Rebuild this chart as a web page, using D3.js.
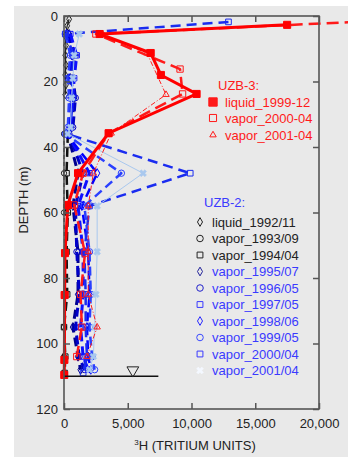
<!DOCTYPE html>
<html>
<head>
<meta charset="utf-8">
<script src="https://cdn.jsdelivr.net/npm/d3@7"></script>
<style>
  body { margin: 0; background: #fff; }
  text { font-family: Arial, "Liberation Sans", sans-serif; }
</style>
</head>
<body>
<div id="chartDiv"></div>
<script>
// tick labels
var xTicks = [0, 5000, 10000, 15000, 20000];
var yTicks = [0, 20, 40, 60, 80, 100, 120];

// UZB-3 (depth in m, tritium in TU)
var uzb3Liq1999Depth = [2.7, 5.5, 11.3, 18, 23.8, 35.8, 48, 57.7, 72.4, 85.2, 105, 109.6];
var uzb3Liq1999TU    = [17500, 2800, 6800, 7600, 10400, 3500, 1100, 300, 80, 50, 30, 20];
var uzb3Vap2000Depth = [0.5, 5.5, 16.2, 23.8, 35.8, 48, 57.7, 72.4, 85, 95, 104];
var uzb3Vap2000TU    = [30000, 2500, 9100, 9300, 3500, 1500, 800, 1650, 1300, 1400, 1000];
var uzb3Vap2001Depth = [5.5, 11.3, 24, 35.8, 48, 58, 72, 85, 95, 104];
var uzb3Vap2001TU    = [2800, 6500, 8000, 3700, 2300, 1900, 1900, 1900, 2600, 1800];

// UZB-2
var uzb2Liq1992Depth = [1, 3, 6, 9, 12, 15, 18, 21, 24];
var uzb2Liq1992TU    = [400, 250, 100, 150, 100, 150, 100, 150, 100];
var uzb2VapDeepDepth = [36, 48, 60, 72, 85, 95, 104, 109];
var uzb2Vap1993TU    = [0, 0, 0, 50, 50, 0, 0, 0];
var uzb2Vap1994TU    = [300, 200, 300, 200, 250, 0, 100, 50];
var uzb2VapDepth     = [5.5, 12, 19, 25, 34, 36, 48, 58, 72, 85, 95, 104, 108];
var uzb2Vap1995TU    = [400, 700, 500, 800, 600, 300, 1100, 700, 1100, 1100, 700, 1100, 1300];
var uzb2Vap1996TU    = [300, 900, 700, 900, 700, 400, 1500, 900, 1000, 1200, 900, 1200, 1600];
var uzb2Vap1997TU    = [500, 1000, 800, 700, 500, 300, 2000, 1100, 1500, 1500, 1300, 1500, 1900];
var uzb2Vap1998TU    = [200, 600, 400, 500, 400, 200, 2600, 1400, 1900, 2000, 1800, 1900, 2100];
var uzb2Vap1999TU    = [100, 500, 300, 400, 300, 100, 4500, 1600, 2000, 2100, 2000, 2200, 2400];
var uzb2Vap2000Depth = [1.8, 5.5, 12, 19, 25, 34, 36, 48, 58, 72, 85, 95, 104, 109];
var uzb2Vap2000TU    = [12900, 100, 800, 600, 700, 500, 200, 9900, 2000, 1600, 1700, 1700, 1800, 1500];
var uzb2Vap2001TU    = [1200, 800, 700, 600, 500, 300, 6200, 2600, 2600, 2500, 2400, 2300, 2000];

// water table
var waterDepth = 110;
var waterLineTU = [0, 7400];
var waterMarkTU = 5400;

var margin = {left: 64, top: 16, right: 29, bottom: 48};
var W = 348, H = 457;

var svg = d3.select("#chartDiv").append("svg")
    .attr("width", W).attr("height", H);

svg.append("rect").attr("x", 14).attr("y", 6)
    .attr("width", W - 14).attr("height", H - 6).attr("fill", "#e9e9e9");

var x = d3.scaleLinear().domain([0, 20000]).range([margin.left, W - margin.right]);
var y = d3.scaleLinear().domain([0, 120]).range([margin.top, H - margin.bottom]);

function zip(depths, tus) {
  return depths.map(function(d, i) { return {d: d, t: tus[i]}; });
}

var line = d3.line().x(function(p) { return x(p.t); }).y(function(p) { return y(p.d); });

var sym = {
  square: d3.symbolSquare, circle: d3.symbolCircle, diamond: d3.symbolDiamond,
  triangle: d3.symbolTriangle, cross: d3.symbolCross
};

function series(data, o) {
  svg.append("path")
      .attr("d", line(data))
      .attr("fill", "none")
      .attr("stroke", o.color)
      .attr("stroke-width", o.width)
      .attr("stroke-dasharray", o.dash || null)
      .attr("stroke-linejoin", "round");
  if (!o.marker) return;
  svg.selectAll(null).data(data).enter().append("path")
      .attr("d", d3.symbol().type(sym[o.marker]).size(o.msize || 30))
      .attr("transform", function(p) {
        return "translate(" + x(p.t) + "," + y(p.d) + ")" + (o.rot ? " rotate(45)" : "");
      })
      .attr("fill", o.fill ? o.color : "none")
      .attr("stroke", o.color)
      .attr("stroke-width", o.mw || 1);
}

// UZB-2 first
series(zip(uzb2Liq1992Depth, uzb2Liq1992TU), {color: "#222", width: 1.2, marker: "diamond", msize: 20});
series(zip(uzb2VapDeepDepth, uzb2Vap1993TU), {color: "#222", width: 1.2, dash: "4,3", marker: "circle", msize: 22});
series(zip(uzb2VapDeepDepth, uzb2Vap1994TU), {color: "#111", width: 2.5, dash: "9,5", marker: "square", msize: 30});
series(zip(uzb2VapDepth, uzb2Vap1995TU), {color: "#000090", width: 3, dash: "9,5", marker: "diamond", msize: 24});
series(zip(uzb2VapDepth, uzb2Vap1996TU), {color: "#0000c8", width: 3, dash: "9,5", marker: "circle", msize: 28});
series(zip(uzb2VapDepth, uzb2Vap1997TU), {color: "#1010ff", width: 3, dash: "9,5", marker: "square", msize: 28});
series(zip(uzb2VapDepth, uzb2Vap1998TU), {color: "#0000ff", width: 2.5, dash: "9,5", marker: "diamond", msize: 24});
series(zip(uzb2VapDepth, uzb2Vap1999TU), {color: "#2a40ff", width: 2.5, dash: "9,5", marker: "circle", msize: 32});
series(zip(uzb2Vap2000Depth, uzb2Vap2000TU), {color: "#1a2cf0", width: 2.5, dash: "10,6", marker: "square", msize: 32});
series(zip(uzb2VapDepth, uzb2Vap2001TU), {color: "#a9c8ee", width: 1, marker: "cross", msize: 30, rot: true, mw: 0.5, fill: true});

// UZB-3
series(zip(uzb3Vap2001Depth, uzb3Vap2001TU), {color: "#ff2020", width: 1, dash: "5,2,1,2", marker: "triangle", msize: 18});
series(zip(uzb3Vap2000Depth, uzb3Vap2000TU), {color: "#ff1a1a", width: 2.5, dash: "12,6", marker: "square", msize: 40});
series(zip(uzb3Liq1999Depth, uzb3Liq1999TU), {color: "#ff0000", width: 3, marker: "square", msize: 50, fill: true});

// water table
svg.append("line")
    .attr("x1", x(waterLineTU[0])).attr("x2", x(waterLineTU[1]))
    .attr("y1", y(waterDepth)).attr("y2", y(waterDepth))
    .attr("stroke", "#111").attr("stroke-width", 1.5);
svg.append("path")
    .attr("d", d3.symbol().type(d3.symbolTriangle).size(60))
    .attr("transform", "translate(" + x(waterMarkTU) + "," + (y(waterDepth) - 6) + ") rotate(180)")
    .attr("fill", "none").attr("stroke", "#222").attr("stroke-width", 1);

// frame and axes
var frame = "#555";
svg.append("rect")
    .attr("x", x(0)).attr("y", y(0))
    .attr("width", x(20000) - x(0)).attr("height", y(120) - y(0))
    .attr("fill", "none").attr("stroke", frame).attr("stroke-width", 1.6);

var xAxis = svg.append("g")
    .attr("transform", "translate(0," + y(120) + ")")
    .call(d3.axisBottom(x).tickValues(xTicks).tickSize(-6).tickPadding(10)
      .tickFormat(d3.format(",")));
var yAxis = svg.append("g")
    .attr("transform", "translate(" + x(0) + ",0)")
    .call(d3.axisLeft(y).tickValues(yTicks).tickSize(-6).tickPadding(6));
var xTop = svg.append("g")
    .attr("transform", "translate(0," + y(0) + ")")
    .call(d3.axisTop(x).tickValues(xTicks).tickSize(-6).tickFormat(""));
var yRight = svg.append("g")
    .attr("transform", "translate(" + x(20000) + ",0)")
    .call(d3.axisRight(y).tickValues(yTicks).tickSize(-6).tickFormat(""));

[xAxis, yAxis, xTop, yRight].forEach(function(g) {
  g.select(".domain").remove();
  g.selectAll(".tick line").attr("stroke", frame).attr("stroke-width", 1.5);
  g.selectAll(".tick text").attr("fill", "#222").style("font-size", "13px")
      .style("font-family", "Arial, 'Liberation Sans', sans-serif");
});

svg.append("text")
    .attr("x", 195).attr("y", 450)
    .attr("text-anchor", "middle").attr("fill", "#222").style("font-size", "13px")
    .html('<tspan font-size="8" dy="-5">3</tspan><tspan dy="5">H (TRITIUM UNITS)</tspan>');

svg.append("text")
    .attr("transform", "translate(28,200) rotate(-90)")
    .attr("text-anchor", "middle").attr("fill", "#222").style("font-size", "13px")
    .text("DEPTH (m)");

// legends
var red = "#ff1a1a", blue = "#3a3aff";
function legendItem(mx, tx, ty, label, textColor, o) {
  svg.append("path")
      .attr("d", d3.symbol().type(sym[o.marker]).size(o.size))
      .attr("transform", "translate(" + mx + "," + ty + ")" + (o.rot ? " rotate(45)" : ""))
      .attr("fill", o.fill ? o.color : "none")
      .attr("stroke", o.color).attr("stroke-width", o.mw || 1);
  svg.append("text").attr("x", tx).attr("y", ty + 4.5)
      .attr("fill", textColor).style("font-size", "13px").text(label);
}

svg.append("text").attr("x", 218).attr("y", 90)
    .attr("fill", red).style("font-size", "13px").text("UZB-3:");
legendItem(213, 225, 102, "liquid_1999-12", red, {marker: "square", size: 70, color: red, fill: true});
legendItem(213, 225, 118, "vapor_2000-04", red, {marker: "square", size: 50, color: red});
legendItem(213, 225, 135, "vapor_2001-04", red, {marker: "triangle", size: 18, color: red});

svg.append("text").attr("x", 204).attr("y", 207)
    .attr("fill", blue).style("font-size", "13px").text("UZB-2:");
var uzb2Labels = ["liquid_1992/11", "vapor_1993/09", "vapor_1994/04", "vapor_1995/07", "vapor_1996/05",
                  "vapor_1997/05", "vapor_1998/06", "vapor_1999/05", "vapor_2000/04", "vapor_2001/04"];
var uzb2Marks = ["diamond", "circle", "square", "diamond", "circle", "square", "diamond", "circle", "square", "cross"];
var uzb2MarkSizes = [22, 34, 34, 22, 34, 34, 22, 34, 34, 30];
var uzb2MarkColors = ["#222", "#222", "#222", "#22229a", "#2222cc", "#3a3aff", "#2a2aff", "#3a4aff", "#3a3aff", "#f4f8ff"];
uzb2Labels.forEach(function(lab, i) {
  var ty = 222 + i * 16.5;
  legendItem(200, 212, ty, lab, i < 3 ? "#222" : blue,
    {marker: uzb2Marks[i], size: uzb2MarkSizes[i], color: uzb2MarkColors[i], rot: i === 9, fill: i === 9, mw: i === 9 ? 0.5 : 1});
});
</script>
</body>
</html>
